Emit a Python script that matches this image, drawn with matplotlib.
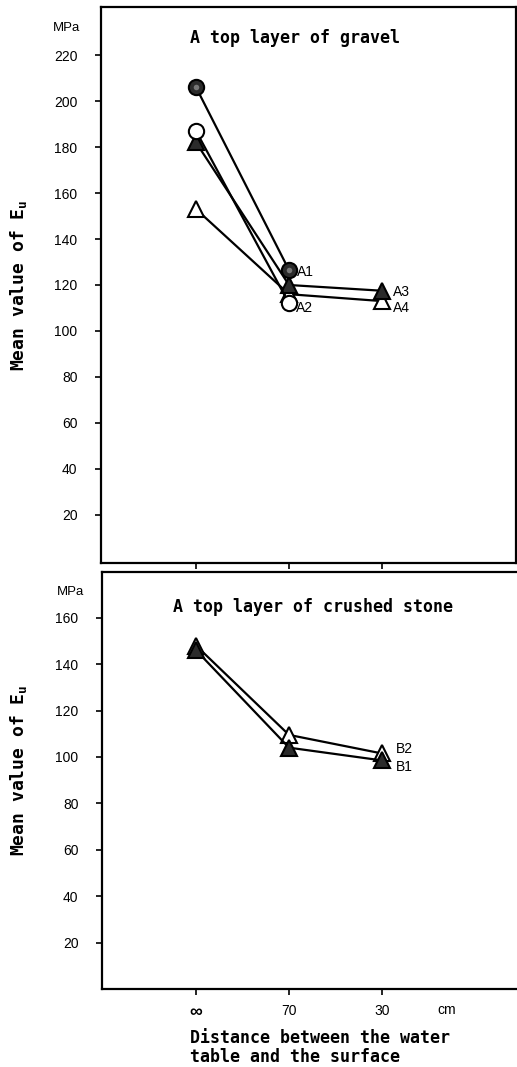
import numpy as np
import matplotlib
matplotlib.use("Agg")
from matplotlib import pyplot as plt
from matplotlib.transforms import blended_transform_factory

# distance between water table and surface (cm)
distances = ["\u221e", "70", "30"]

# top layer of gravel, mean E_u in MPa
a1 = [206, 126.5]
a2 = [187, 112]
a3 = [182, 120, 117.5]
a4 = [153, 116, 113]

# top layer of crushed stone
b1 = [146, 104, 98.5]
b2 = [148, 109.5, 101.5]

gravel_ticks = [20, 40, 60, 80, 100, 120, 140, 160, 180, 200, 220]
stone_ticks = [20, 40, 60, 80, 100, 120, 140, 160]

W, H = 517, 1067
mono = "DejaVu Sans Mono"
sans = ["Liberation Sans", "DejaVu Sans"]

fig = plt.figure(figsize=(W / 100, H / 100), dpi=100)


def px_axes(left, top, right, bottom):
    return fig.add_axes([left / W, 1 - bottom / H, (right - left) / W, (bottom - top) / H])


def style(ax, yticks):
    ax.set_yticks(yticks)
    ax.set_xticks(range(len(distances)))
    for s in ax.spines.values():
        s.set_linewidth(1.6)
    ax.tick_params(axis="both", direction="out", length=4, width=1.2,
                   labelsize=10, pad=13)
    for lab in ax.get_yticklabels():
        lab.set_family(sans)


def series(ax, vals, marker, face, label=None, off=(0, 0)):
    x = np.arange(len(vals))
    ax.plot(x, vals, color="black", lw=1.6, marker=marker, markersize=11,
            markerfacecolor=face, markeredgecolor="black", markeredgewidth=1.5,
            zorder=3)
    if label:
        ax.annotate(label, xy=(x[-1], vals[-1]), xytext=off, textcoords="offset points",
                    fontsize=10, family=sans, va="center", ha="left")


def ylabel(ax, x, y):
    ax.set_ylabel(r"Mean value of $\mathregular{E_u}$", family=mono,
                  fontweight="bold", fontsize=13)
    ax.yaxis.set_label_coords(x, y)


# --- gravel ---
ax1 = px_axes(101, 7, 516, 563)
ax1.set_xlim((101 - 196) / 93, (516 - 196) / 93)
ax1.set_ylim(-0.9, 240.9)
style(ax1, gravel_ticks)
ax1.set_xticklabels([])

series(ax1, a4, "^", "white", "A4", (8, -5))
series(ax1, a3, "^", "#2b2b2b", "A3", (8, -1))
series(ax1, a2, "o", "white", "A2", (5, -3))
series(ax1, a1, "o", "#2b2b2b", "A1", (6, -1.5))
# lighter centre on the filled circles
ax1.plot(range(len(a1)), a1, ls="none", marker="o", markersize=4,
         markerfacecolor="#777777", markeredgecolor="none", zorder=4)

ax1.text((190 - 101) / 415, (563 - 38) / 556, "A top layer of gravel",
         transform=ax1.transAxes, family=mono, fontweight="bold", fontsize=12,
         ha="left", va="center")
ax1.text((67 - 101) / 415, (563 - 28) / 556, "MPa", transform=ax1.transAxes,
         family=sans, fontsize=9.5, ha="center", va="center")
ylabel(ax1, (29 - 101) / 415, (563 - 285) / 556)

# --- crushed stone ---
ax2 = px_axes(102, 572, 540, 989)
ax2.set_xlim((102 - 196) / 93, (540 - 196) / 93)
ax2.set_ylim(0, 179.7)
style(ax2, stone_ticks)
ax2.spines["right"].set_visible(False)
ax2.set_xticklabels(distances, family=sans)
ax2.get_xticklabels()[0].set_fontsize(13)
ax2.get_xticklabels()[0].set_fontweight("bold")
ax2.tick_params(axis="x", pad=7)

series(ax2, b2, "^", "white", "B2", (10, 3))
series(ax2, b1, "^", "#2b2b2b", "B1", (10, -5))

ax2.text((173 - 102) / 438, (989 - 607) / 417, "A top layer of crushed stone",
         transform=ax2.transAxes, family=mono, fontweight="bold", fontsize=12,
         ha="left", va="center")
ax2.text((70 - 102) / 438, (989 - 592) / 417, "MPa", transform=ax2.transAxes,
         family=sans, fontsize=9.5, ha="center", va="center")
ylabel(ax2, (29 - 102) / 438, (989 - 770) / 417)

trans = blended_transform_factory(ax2.transData, ax2.transAxes)
ax2.text((447 - 196) / 93, -(1010 - 989) / 417, "cm", transform=trans,
         family=sans, fontsize=10, ha="center", va="center")
ax2.text((190 - 102) / 438, -(1029 - 989) / 417,
         "Distance between the water\ntable and the surface",
         transform=ax2.transAxes, family=mono, fontweight="bold", fontsize=12,
         ha="left", va="top", linespacing=1.05)

fig.savefig("out.png", dpi=100)
